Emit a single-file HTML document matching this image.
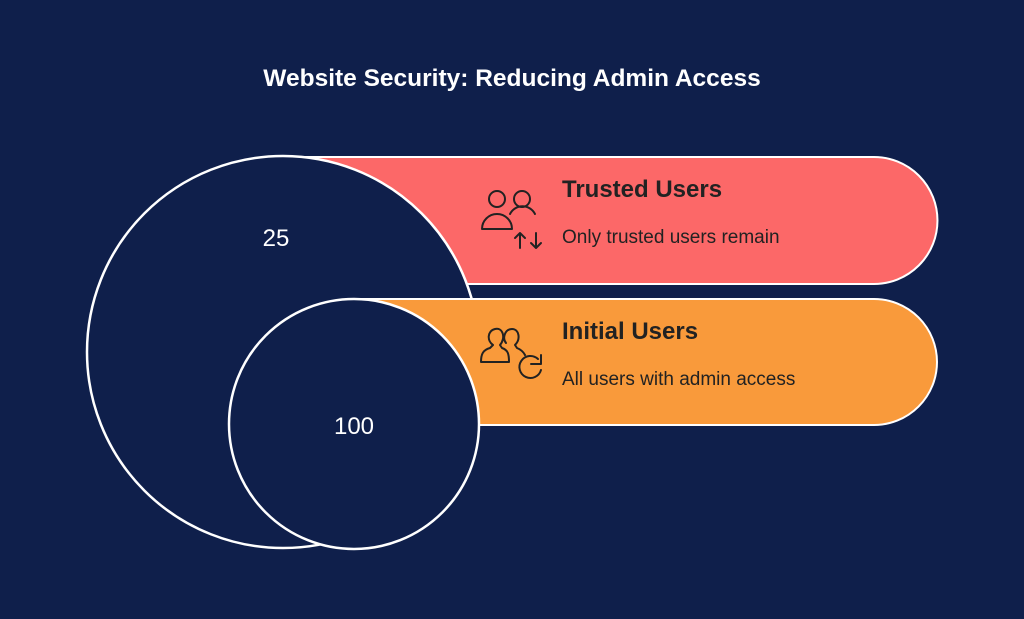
<!DOCTYPE html>
<html><head><style>
html,body{margin:0;padding:0;background:#0f1f4b;}
body{width:1024px;height:614px;overflow:hidden;font-family:"Liberation Sans",sans-serif;}
</style></head><body>
<svg width="1024" height="614" viewBox="0 0 1024 614" xmlns="http://www.w3.org/2000/svg">
<rect width="1024" height="614" fill="#0f1f4b"/>
<text x="512" y="86" text-anchor="middle" font-family="Liberation Sans, sans-serif" font-weight="bold" font-size="24.5" fill="#fff">Website Security: Reducing Admin Access</text>
<path d="M283 157 H874 A63.5 63.5 0 0 1 874 284 H283 Z" fill="#fc6868" stroke="#fff" stroke-width="2"/>
<circle cx="283" cy="352" r="196" fill="#0f1f4b" stroke="#fff" stroke-width="2.5"/>
<path d="M354 299 H874 A63 63 0 0 1 874 425 H354 Z" fill="#f99a3b" stroke="#fff" stroke-width="2"/>
<circle cx="354" cy="424" r="125" fill="#0f1f4b" stroke="#fff" stroke-width="2.5"/>
<text x="276" y="246" text-anchor="middle" font-family="Liberation Sans, sans-serif" font-size="24" fill="#fff">25</text>
<text x="354" y="434" text-anchor="middle" font-family="Liberation Sans, sans-serif" font-size="24" fill="#fff">100</text>
<g fill="none" stroke="#222" stroke-width="2" stroke-linecap="round" stroke-linejoin="round">
<circle cx="497" cy="199" r="8"/><circle cx="522" cy="199" r="8"/>
<path d="M482 229 A15 15 0 0 1 512 229 Z"/>
<path d="M510 214 A14 14 0 0 1 535 214"/>
<path d="M520 233 V248 M515 238 L520 233 L525 238"/>
<path d="M536 233 V248 M531 243 L536 248 L541 243"/>
<path d="M493 345 C487 341 487 331 495 329 C503 327 506 338 500 345 L502 348 C508 350 509 354 509 362 H481 C481 354 483 350 490 348 Z"/>
<path d="M506 343 C502 338 505 329 512 329 C519 329 521 339 515 345 L517 348 C522 350 524 353 525 355"/>
<path d="M541 370 A11 11 0 1 1 538 359 M531 364 H541 V355"/>
</g>
<text x="562" y="197" font-family="Liberation Sans, sans-serif" font-weight="bold" font-size="24" fill="#222">Trusted Users</text>
<text x="562" y="243" font-family="Liberation Sans, sans-serif" font-size="19" fill="#222">Only trusted users remain</text>
<text x="562" y="339" font-family="Liberation Sans, sans-serif" font-weight="bold" font-size="24" fill="#222">Initial Users</text>
<text x="562" y="385" font-family="Liberation Sans, sans-serif" font-size="19" fill="#222">All users with admin access</text>
</svg>
</body></html>
